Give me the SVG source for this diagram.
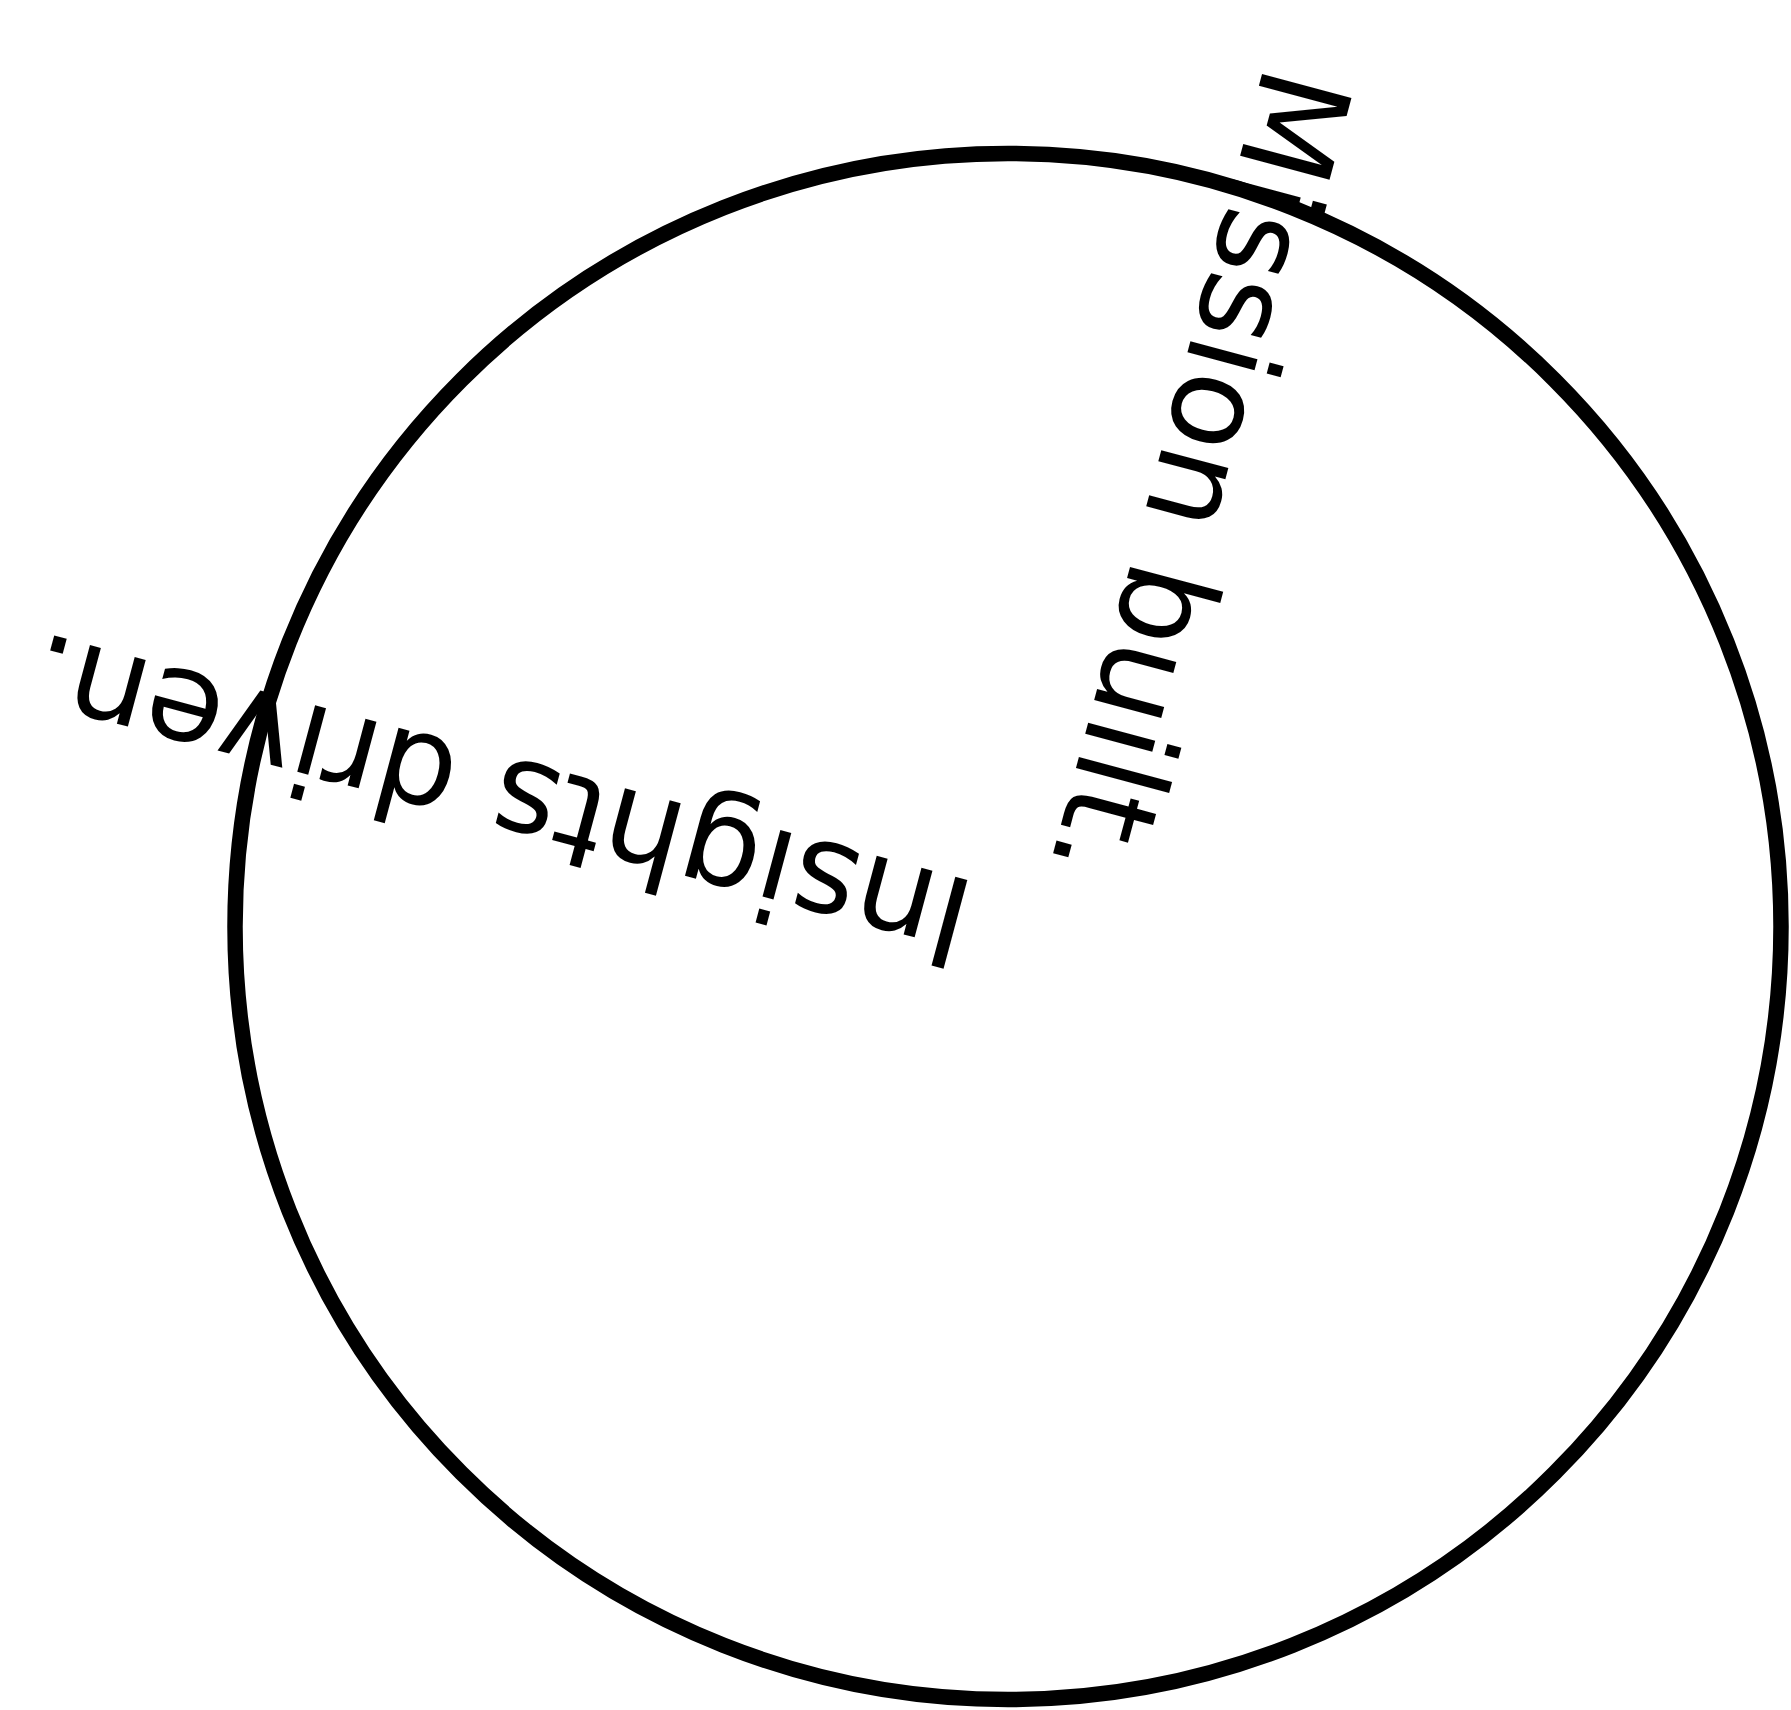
<svg xmlns="http://www.w3.org/2000/svg" width="1791" height="1710" viewBox="0 0 1791 1710">
<style>
.lbl{font-family:"DejaVu Sans",sans-serif;font-size:127px;fill:#000}
.lbl.b{font-size:126px}
.ring{fill:none;stroke:#000;stroke-width:15.5}
</style>
<rect width="1791" height="1710" fill="#fff"/>
<g id="circle"><circle class="ring" cx="1008" cy="926.5" r="773"/></g>
<g id="label-mission"><text class="lbl" transform="translate(1265.2 62.1) rotate(105)">Mission built.</text></g>
<g id="label-insights"><text class="lbl b" transform="translate(979.3 883.3) rotate(195)">Insights driven.</text></g>
</svg>
